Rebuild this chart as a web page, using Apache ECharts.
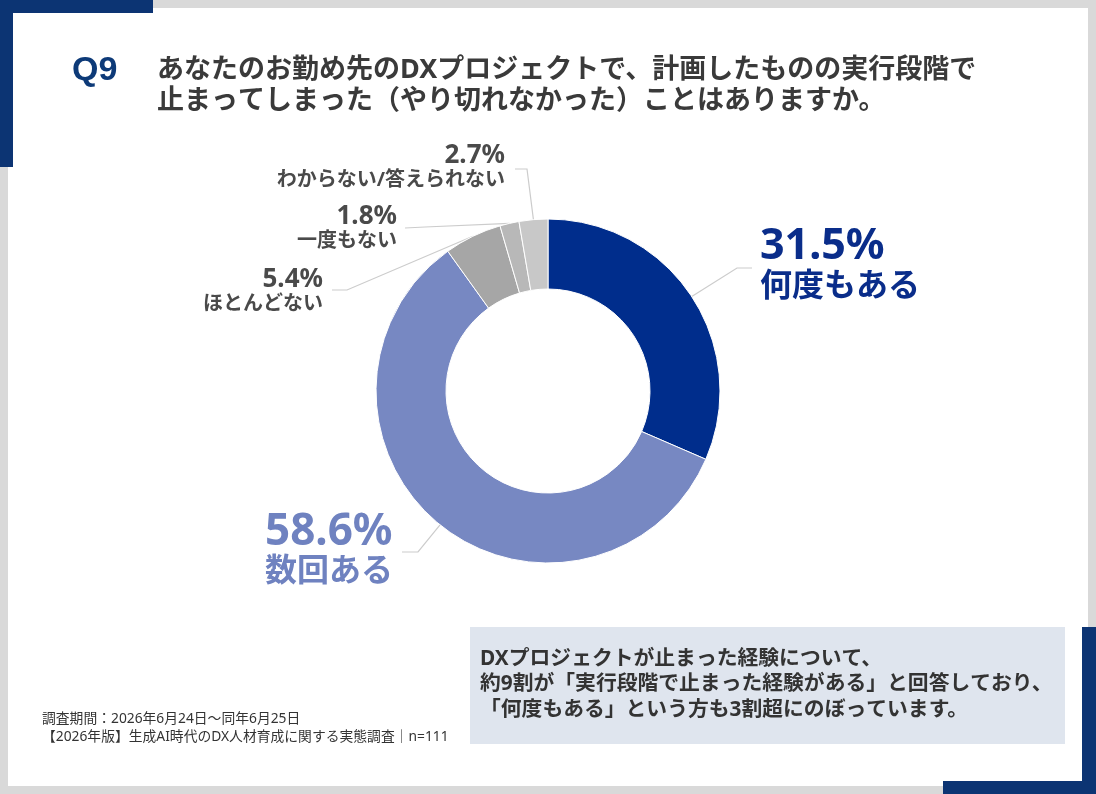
<!DOCTYPE html>
<html>
<head>
<meta charset="utf-8">
<script src="https://cdn.jsdelivr.net/npm/echarts@6/dist/echarts.min.js"></script>
<style>
html, body { margin: 0; padding: 0; background: #d9d9d9; }
#main { width: 1096px; height: 794px; }
</style>
</head>
<body>
<div id="main"></div>
<script>
// 回答データ（%）
var categories = ['何度もある', '数回ある', 'ほとんどない', '一度もない', 'わからない/答えられない'];
var values = [31.5, 58.6, 5.4, 1.8, 2.7];

var questionNo = 'Q9';
var questionText = 'あなたのお勤め先のDXプロジェクトで、計画したものの実行段階で\n止まってしまった（やり切れなかった）ことはありますか。';
var summaryText = 'DXプロジェクトが止まった経験について、\n約9割が「実行段階で止まった経験がある」と回答しており、\n「何度もある」という方も3割超にのぼっています。';
var noteText = '調査期間：2026年6月24日～同年6月25日\n【2026年版】生成AI時代のDX人材育成に関する実態調査｜n=111';

// 見た目
var navy = '#0c3473';
var sliceColors = ['#002d8c', '#7788c2', '#a6a6a6', '#b8b8b8', '#c8c8c8'];
var labelStyleKey = ['a', 'b', 'c', 'c', 'c'];
var jp = '"Noto Sans", "Noto Sans CJK JP", sans-serif';

// ラベル位置と引き出し線
var labelSpots = [
    {x: 760, y: 227, align: 'left',  bend: [737, 268], end: [752, 268]},
    {x: 265, y: 512, align: 'left',  bend: [418, 552], end: [402, 552]},
    {x: 323, y: 268, align: 'right', bend: [347, 290], end: [332, 290]},
    {x: 397, y: 205, align: 'right', bend: [425, 227], end: [405, 228]},
    {x: 505, y: 144, align: 'right', bend: [527, 169], end: [515, 169]}
];

var pieData = categories.map(function (name, i) {
    return {name: name, value: values[i], itemStyle: {color: sliceColors[i]}};
});

var chart = echarts.init(document.getElementById('main'));

chart.setOption({
    animation: false,
    backgroundColor: '#d9d9d9',
    graphic: [
        // 白いカード
        {type: 'rect', z: 0, silent: true, shape: {x: 8, y: 8, width: 1080, height: 778}, style: {fill: '#ffffff'}},
        // 左上・右下の飾り
        {type: 'rect', z: 1, silent: true, shape: {x: 0, y: 0, width: 153, height: 13}, style: {fill: navy}},
        {type: 'rect', z: 1, silent: true, shape: {x: 0, y: 0, width: 13, height: 167}, style: {fill: navy}},
        {type: 'rect', z: 1, silent: true, shape: {x: 1082, y: 627, width: 14, height: 167}, style: {fill: navy}},
        {type: 'rect', z: 1, silent: true, shape: {x: 943, y: 781, width: 153, height: 13}, style: {fill: navy}},
        // 設問
        {type: 'text', z: 2, silent: true, x: 72, y: 71, style: {
            text: questionNo, fill: '#0d3a78', fontSize: 34, fontWeight: 'bold',
            fontFamily: '"Liberation Sans", Arial, sans-serif', verticalAlign: 'middle'
        }},
        {type: 'text', z: 2, silent: true, x: 157, y: 55, style: {
            text: questionText, fill: '#3a3a3a', fontSize: 27, fontWeight: 'bold',
            lineHeight: 31, fontFamily: jp, verticalAlign: 'top'
        }},
        // まとめボックス
        {type: 'rect', z: 1, silent: true, shape: {x: 470, y: 627, width: 595, height: 117}, style: {fill: '#dfe5ee'}},
        {type: 'text', z: 2, silent: true, x: 480, y: 646, style: {
            text: summaryText, fill: '#333333', fontSize: 20.8, fontWeight: 'bold',
            lineHeight: 25.5, fontFamily: jp, verticalAlign: 'top'
        }},
        // 注記
        {type: 'text', z: 2, silent: true, x: 42, y: 710, style: {
            text: noteText, fill: '#333333', fontSize: 13.8,
            lineHeight: 18, fontFamily: jp, verticalAlign: 'top'
        }}
    ],
    series: [{
        type: 'pie',
        silent: true,
        center: [548, 391],
        radius: [102, 172],
        startAngle: 90,
        clockwise: true,
        avoidLabelOverlap: false,
        z: 3,
        itemStyle: {borderColor: '#ffffff', borderWidth: 1},
        emphasis: {disabled: true},
        label: {
            show: true,
            position: 'outside',
            fontFamily: jp,
            formatter: function (p) {
                var k = labelStyleKey[p.dataIndex];
                return '{' + k + 'p|' + p.value.toFixed(1) + '%}\n{' + k + 'n|' + p.name + '}';
            },
            rich: {
                ap: {fontSize: 43, fontWeight: 'bold', color: '#0a2d8a', lineHeight: 40, fontFamily: jp, align: 'left'},
                an: {fontSize: 32, fontWeight: 'bold', color: '#0a2d8a', lineHeight: 40, fontFamily: jp, align: 'left'},
                bp: {fontSize: 44, fontWeight: 'bold', color: '#6f82c0', lineHeight: 40, fontFamily: jp, align: 'left'},
                bn: {fontSize: 32, fontWeight: 'bold', color: '#6f82c0', lineHeight: 40, fontFamily: jp, align: 'left'},
                cp: {fontSize: 26, fontWeight: 'bold', color: '#4a4a4a', lineHeight: 24, fontFamily: jp, align: 'right'},
                cn: {fontSize: 20, fontWeight: 'bold', color: '#4a4a4a', lineHeight: 24, fontFamily: jp, align: 'right'}
            }
        },
        labelLine: {
            show: true,
            length: 20,
            length2: 15,
            smooth: false,
            lineStyle: {color: '#cccccc', width: 1.2}
        },
        labelLayout: function (params) {
            var s = labelSpots[params.dataIndex];
            var start = params.labelLinePoints ? params.labelLinePoints[0] : s.bend;
            return {
                x: s.x,
                y: s.y,
                align: s.align,
                verticalAlign: 'top',
                labelLinePoints: [start, s.bend, s.end]
            };
        },
        data: pieData
    }]
});
</script>
</body>
</html>
